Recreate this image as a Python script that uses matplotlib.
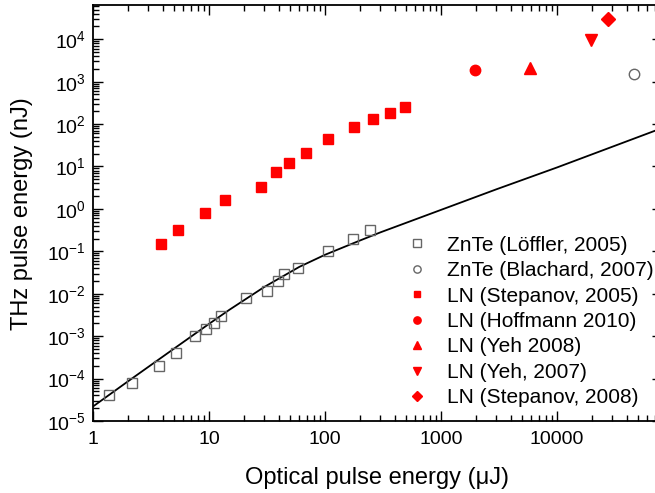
import math
import matplotlib
matplotlib.use('Agg')
import matplotlib.pyplot as plt
from matplotlib.ticker import LogLocator, FixedLocator, FuncFormatter, NullFormatter

plt.rcParams['font.family'] = ['Liberation Sans', 'DejaVu Sans']
plt.rcParams['mathtext.fontset'] = 'custom'
plt.rcParams['mathtext.rm'] = 'Liberation Sans'
plt.rcParams['mathtext.default'] = 'regular'

# ZnTe (Löffler, 2005) - open squares
loffler_x = [1.37, 2.18, 3.7, 5.2, 7.6, 9.4, 11, 12.8, 20.7, 31.4, 39, 44, 59, 107, 173, 244]
loffler_y = [4e-5, 8e-5, 2e-4, 4e-4, 1e-3, 1.5e-3, 2.1e-3, 3e-3, 7.8e-3, 1.17e-2, 2e-2, 3e-2, 4e-2, 0.1, 0.2, 0.31]

# ZnTe (Blachard, 2007)
blanchard_x = [46400]
blanchard_y = [1500]

# LN (Stepanov, 2005)
step05_x = [3.86, 5.37, 9.2, 13.8, 28.3, 38, 49, 68.6, 107, 177, 258, 361, 490]
step05_y = [0.15, 0.31, 0.8, 1.6, 3.2, 7.6, 12.4, 21, 44, 86, 135, 187, 248]

# single points
hoff_x, hoff_y = [1950], [1900]
yeh08_x, yeh08_y = [5850], [2100]
yeh07_x, yeh07_y = [19600], [9500]
step08_x, step08_y = [27300], [29500]

# fitted curve
curve_x = [1, 2, 5, 10, 15, 30, 60, 100, 200, 300, 1000, 3000, 10000, 80000]
curve_y = [2.2e-5, 8.6e-5, 5.1e-4, 1.95e-3, 4.2e-3, 1.45e-2, 4.3e-2, 8.3e-2, 0.18, 0.28, 0.95, 2.9, 9.5, 80]

fig = plt.figure(figsize=(6.55, 4.93), dpi=100)
ax = fig.add_axes([0.142, 0.146, 0.8684, 0.8432])

red = '#ff0000'
grey = '#666666'

ax.plot(curve_x, curve_y, color='k', lw=1.3, zorder=2)
ax.plot(loffler_x, loffler_y, ls='none', marker='s', ms=7.5, mfc='none', mec=grey, mew=1,
        label='ZnTe (L\u00f6ffler, 2005)', zorder=3)
ax.plot(blanchard_x, blanchard_y, ls='none', marker='o', ms=7.5, mfc='none', mec=grey, mew=1,
        label='ZnTe (Blachard, 2007)', zorder=3)
ax.plot(step05_x, step05_y, ls='none', marker='s', ms=7, color=red, mec=red,
        label='LN (Stepanov, 2005)', zorder=3)
ax.plot(hoff_x, hoff_y, ls='none', marker='o', ms=7.5, color=red, mec=red,
        label='LN (Hoffmann 2010)', zorder=3)
ax.plot(yeh08_x, yeh08_y, ls='none', marker='^', ms=9, color=red, mec=red,
        label='LN (Yeh 2008)', zorder=3)
ax.plot(yeh07_x, yeh07_y, ls='none', marker='v', ms=9, color=red, mec=red,
        label='LN (Yeh, 2007)', zorder=3)
ax.plot(step08_x, step08_y, ls='none', marker='D', ms=7.5, color=red, mec=red,
        label='LN (Stepanov, 2008)', zorder=3)

ax.set_xscale('log')
ax.set_yscale('log')
ax.set_xlim(1, 8e4)
ax.set_ylim(1e-5, 6.3e4)

ax.xaxis.set_major_locator(FixedLocator([1, 10, 100, 1000, 10000]))
ax.xaxis.set_major_formatter(FuncFormatter(lambda v, p: '%d' % round(v)))
ax.xaxis.set_minor_locator(LogLocator(base=10, subs=range(2, 10), numticks=20))
ax.xaxis.set_minor_formatter(NullFormatter())

ax.yaxis.set_major_locator(FixedLocator([10.0 ** k for k in range(-5, 5)]))
ax.yaxis.set_major_formatter(FuncFormatter(lambda v, p: r'$10^{%d}$' % round(math.log10(v))))
ax.yaxis.set_minor_locator(LogLocator(base=10, subs=range(2, 10), numticks=20))
ax.yaxis.set_minor_formatter(NullFormatter())

ax.tick_params(which='both', direction='in', top=True, right=True, width=1, labelsize=14)
ax.tick_params(which='major', length=7)
ax.tick_params(which='minor', length=4)
ax.tick_params(axis='x', pad=7)
ax.tick_params(axis='y', pad=5)
for s in ax.spines.values():
    s.set_linewidth(1.3)

ax.set_xlabel('Optical pulse energy (\u03bcJ)', fontsize=17, labelpad=14)
ax.set_ylabel('THz pulse energy (nJ)', fontsize=17, labelpad=10)

ax.legend(loc='upper left', bbox_to_anchor=(406.5 / 655, 0.522), bbox_transform=fig.transFigure,
          frameon=False, fontsize=15, markerscale=0.7, handlelength=1.0, handletextpad=0.94,
          labelspacing=0.31, borderpad=0, borderaxespad=0)

fig.savefig('out.png', dpi=100)
